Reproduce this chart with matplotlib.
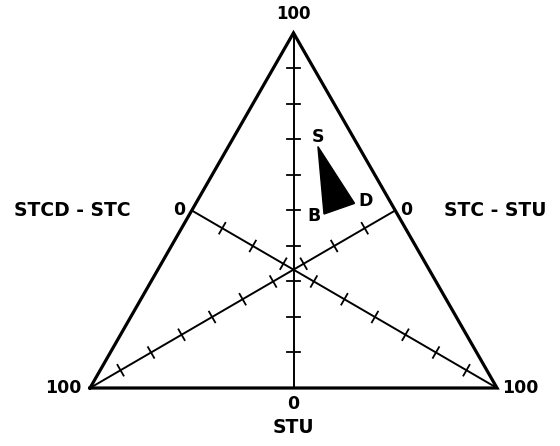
import matplotlib
matplotlib.use("Agg")
import matplotlib.pyplot as plt
import numpy as np
from matplotlib.patches import Polygon

# composicion de las muestras (STU, STCD-STC, STC-STU), en %
muestras = ["S", "D", "B"]
stu = [68, 52, 49]
stcd_stc = [22, 39, 33]
stc_stu = [10, 9, 18]

ejes = ["STU", "STCD - STC", "STC - STU"]
marcas = np.arange(10, 100, 10)

H = np.sqrt(3) / 2
# vertices: arriba = STU, abajo derecha = STCD-STC, abajo izquierda = STC-STU
V_top = np.array([0.5, H])
V_der = np.array([1.0, 0.0])
V_izq = np.array([0.0, 0.0])


def a_xy(t, r, l):
    s = t + r + l
    t, r, l = t / s, r / s, l / s
    return t * V_top + r * V_der + l * V_izq


fig = plt.figure(figsize=(5.6, 4.46), dpi=100)
ax = fig.add_axes([0, 0, 1, 1])
ax.set_xlim(-90 / 407, 470 / 407)
ax.set_ylim(-58 / 410, 388 / 410)
ax.axis("off")

# triangulo exterior
borde = np.array([V_izq, V_der, V_top, V_izq])
ax.plot(borde[:, 0], borde[:, 1], color="black", lw=2.3, solid_joinstyle="miter")

# medianas con marcas cada 10 %
medianas = [(V_top, (V_izq + V_der) / 2),
            (V_der, (V_izq + V_top) / 2),
            (V_izq, (V_der + V_top) / 2)]
for v, m in medianas:
    ax.plot([v[0], m[0]], [v[1], m[1]], color="black", lw=1.4)
    d = (m - v) / np.linalg.norm(m - v)
    n = np.array([-d[1], d[0]])
    for k in marcas:
        p = v + (m - v) * (100 - k) / 100
        a = p + n * 0.015
        b = p - n * 0.015
        ax.plot([a[0], b[0]], [a[1], b[1]], color="black", lw=1.3)

# area de las muestras
pts = np.array([a_xy(t, r, l) for t, r, l in zip(stu, stcd_stc, stc_stu)])
ax.add_patch(Polygon(pts, closed=True, facecolor="black", edgecolor="black", lw=1))
desplaz = {"S": (0, 10), "D": (11, 2), "B": (-10, -2)}
for nombre, p in zip(muestras, pts):
    ax.annotate(nombre, p, xytext=desplaz[nombre], textcoords="offset pixels",
                ha="center", va="center", fontsize=12.5, fontweight="bold")

fuente = dict(fontweight="bold", color="black")
ax.text(V_top[0], V_top[1] + 0.045, "100", ha="center", va="center", fontsize=12, **fuente)
ax.text(V_izq[0] - 0.02, V_izq[1], "100", ha="right", va="center", fontsize=12.5, **fuente)
ax.text(V_der[0] + 0.012, V_der[1], "100", ha="left", va="center", fontsize=12.5, **fuente)

m_abajo, m_izq, m_der = (V_izq + V_der) / 2, (V_izq + V_top) / 2, (V_der + V_top) / 2
ax.text(m_abajo[0], m_abajo[1] - 0.04, "0", ha="center", va="center", fontsize=12.5, **fuente)
ax.text(m_izq[0] - 0.032, m_izq[1], "0", ha="center", va="center", fontsize=12.5, **fuente)
ax.text(m_der[0] + 0.028, m_der[1], "0", ha="center", va="center", fontsize=12.5, **fuente)

ax.text(m_abajo[0], m_abajo[1] - 0.097, ejes[0], ha="center", va="center", fontsize=13.5, **fuente)
ax.text(m_izq[0] - 0.15, m_izq[1], ejes[1], ha="right", va="center", fontsize=13.5, **fuente)
ax.text(m_der[0] + 0.12, m_der[1], ejes[2], ha="left", va="center", fontsize=13.5, **fuente)

fig.savefig("out.png", dpi=100)
